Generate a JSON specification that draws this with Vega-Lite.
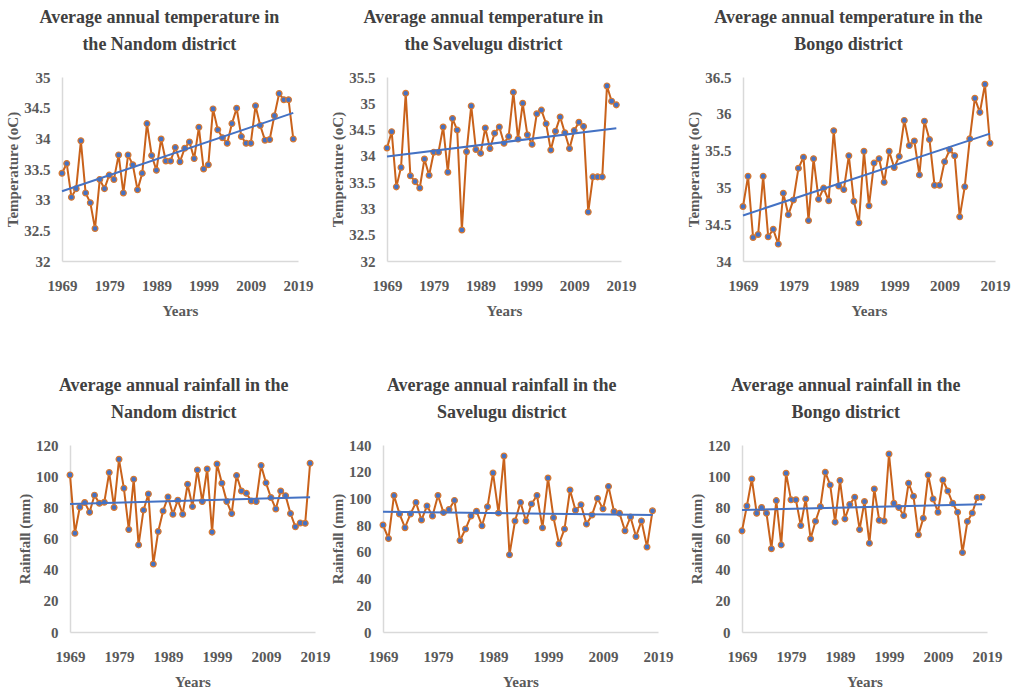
{
  "$schema": "https://vega.github.io/schema/vega-lite/v6.json",
  "background": "white",
  "padding": {"left": 5, "right": 5, "top": 9, "bottom": 5},
  "datasets": {
    "d": [
      {"year":1969,"nT":33.43,"sT":34.15,"bT":34.74,"nR":100.8,"sR":80.1,"bR":64.9},
      {"year":1970,"nT":33.59,"sT":34.46,"bT":35.15,"nR":63.4,"sR":70.0,"bR":80.9},
      {"year":1971,"nT":33.04,"sT":33.41,"bT":34.32,"nR":80.1,"sR":102.2,"bR":98.2},
      {"year":1972,"nT":33.18,"sT":33.78,"bT":34.36,"nR":83.1,"sR":88.4,"bR":76.2},
      {"year":1973,"nT":33.96,"sT":35.19,"bT":35.15,"nR":76.9,"sR":78.1,"bR":79.9},
      {"year":1974,"nT":33.11,"sT":33.62,"bT":34.33,"nR":87.8,"sR":88.4,"bR":76.2},
      {"year":1975,"nT":32.95,"sT":33.51,"bT":34.43,"nR":82.6,"sR":97.0,"bR":53.4},
      {"year":1976,"nT":32.53,"sT":33.39,"bT":34.23,"nR":83.3,"sR":83.9,"bR":84.3},
      {"year":1977,"nT":33.33,"sT":33.94,"bT":34.92,"nR":102.3,"sR":94.4,"bR":55.9},
      {"year":1978,"nT":33.18,"sT":33.63,"bT":34.63,"nR":79.9,"sR":86.9,"bR":101.9},
      {"year":1979,"nT":33.40,"sT":34.07,"bT":34.83,"nR":110.8,"sR":102.2,"bR":84.8},
      {"year":1980,"nT":33.33,"sT":34.07,"bT":35.26,"nR":92.2,"sR":89.4,"bR":84.8},
      {"year":1981,"nT":33.73,"sT":34.55,"bT":35.41,"nR":65.8,"sR":91.7,"bR":68.3},
      {"year":1982,"nT":33.11,"sT":33.69,"bT":34.55,"nR":98.0,"sR":98.5,"bR":85.4},
      {"year":1983,"nT":33.73,"sT":34.71,"bT":35.39,"nR":55.9,"sR":68.5,"bR":59.8},
      {"year":1984,"nT":33.57,"sT":34.49,"bT":34.84,"nR":78.2,"sR":77.1,"bR":71.1},
      {"year":1985,"nT":33.16,"sT":32.59,"bT":34.99,"nR":88.6,"sR":86.9,"bR":80.5},
      {"year":1986,"nT":33.43,"sT":34.08,"bT":34.82,"nR":43.6,"sR":90.4,"bR":102.5},
      {"year":1987,"nT":34.24,"sT":34.95,"bT":35.77,"nR":64.5,"sR":79.6,"bR":94.4},
      {"year":1988,"nT":33.72,"sT":34.12,"bT":35.02,"nR":77.7,"sR":93.7,"bR":70.5},
      {"year":1989,"nT":33.48,"sT":34.05,"bT":34.97,"nR":86.7,"sR":119.1,"bR":97.2},
      {"year":1990,"nT":33.99,"sT":34.53,"bT":35.43,"nR":75.6,"sR":89.1,"bR":72.6},
      {"year":1991,"nT":33.63,"sT":34.14,"bT":34.81,"nR":84.6,"sR":131.7,"bR":81.8},
      {"year":1992,"nT":33.63,"sT":34.43,"bT":34.52,"nR":75.6,"sR":57.9,"bR":86.5},
      {"year":1993,"nT":33.85,"sT":34.55,"bT":35.49,"nR":94.8,"sR":83.1,"bR":65.8},
      {"year":1994,"nT":33.62,"sT":34.24,"bT":34.75,"nR":80.5,"sR":97.0,"bR":83.7},
      {"year":1995,"nT":33.84,"sT":34.37,"bT":35.33,"nR":104.0,"sR":83.1,"bR":57.0},
      {"year":1996,"nT":33.94,"sT":35.21,"bT":35.39,"nR":83.7,"sR":95.9,"bR":91.8},
      {"year":1997,"nT":33.67,"sT":34.32,"bT":35.07,"nR":104.6,"sR":102.2,"bR":71.7},
      {"year":1998,"nT":34.18,"sT":35.00,"bT":35.49,"nR":64.1,"sR":78.1,"bR":71.3},
      {"year":1999,"nT":33.50,"sT":34.40,"bT":35.27,"nR":107.8,"sR":115.3,"bR":114.2},
      {"year":2000,"nT":33.57,"sT":34.22,"bT":35.42,"nR":95.5,"sR":85.6,"bR":82.6},
      {"year":2001,"nT":34.48,"sT":34.80,"bT":35.91,"nR":83.7,"sR":66.0,"bR":79.9},
      {"year":2002,"nT":34.14,"sT":34.87,"bT":35.57,"nR":76.0,"sR":77.1,"bR":74.7},
      {"year":2003,"nT":34.01,"sT":34.61,"bT":35.63,"nR":100.4,"sR":106.3,"bR":95.5},
      {"year":2004,"nT":33.92,"sT":34.11,"bT":35.17,"nR":90.5,"sR":91.2,"bR":87.1},
      {"year":2005,"nT":34.24,"sT":34.47,"bT":35.90,"nR":89.0,"sR":95.2,"bR":62.4},
      {"year":2006,"nT":34.49,"sT":34.74,"bT":35.65,"nR":84.1,"sR":80.8,"bR":73.0},
      {"year":2007,"nT":34.03,"sT":34.44,"bT":35.03,"nR":83.7,"sR":87.6,"bR":100.8},
      {"year":2008,"nT":33.92,"sT":34.14,"bT":35.03,"nR":106.8,"sR":100.0,"bR":85.4},
      {"year":2009,"nT":33.92,"sT":34.48,"bT":35.35,"nR":95.7,"sR":92.2,"bR":76.9},
      {"year":2010,"nT":34.53,"sT":34.64,"bT":35.51,"nR":86.3,"sR":109.0,"bR":97.6},
      {"year":2011,"nT":34.21,"sT":34.56,"bT":35.43,"nR":79.0,"sR":90.2,"bR":90.5},
      {"year":2012,"nT":33.97,"sT":32.93,"bT":34.60,"nR":90.5,"sR":88.9,"bR":82.6},
      {"year":2013,"nT":33.98,"sT":33.60,"bT":35.01,"nR":87.5,"sR":75.8,"bR":76.9},
      {"year":2014,"nT":34.37,"sT":33.60,"bT":35.66,"nR":76.0,"sR":86.1,"bR":51.0},
      {"year":2015,"nT":34.73,"sT":33.60,"bT":36.21,"nR":67.5,"sR":71.5,"bR":70.9},
      {"year":2016,"nT":34.63,"sT":35.33,"bT":36.02,"nR":70.0,"sR":83.1,"bR":76.4},
      {"year":2017,"nT":34.63,"sT":35.04,"bT":36.40,"nR":69.8,"sR":63.7,"bR":86.3},
      {"year":2018,"nT":33.99,"sT":34.97,"bT":35.60,"nR":108.3,"sR":90.7,"bR":86.5}
    ]
  },
  "vconcat": [
    {
      "hconcat": [
        {
          "width": 236, "height": 184,
          "title": {"text": ["Average annual temperature in", "the Nandom district"]},
          "data": {"name": "d"},
          "encoding": {
            "x": {"field": "year", "type": "quantitative", "scale": {"domain": [1969, 2019], "nice": false, "zero": false}, "axis": {"values": [1969, 1979, 1989, 1999, 2009, 2019], "title": "Years"}},
            "y": {"field": "nT", "type": "quantitative", "scale": {"domain": [32, 35], "nice": false, "zero": false}, "axis": {"values": [32, 32.5, 33, 33.5, 34, 34.5, 35], "title": "Temperature (oC)"}}
          },
          "layer": [
            {"mark": {"type": "line", "color": "#C9621B", "strokeWidth": 2}},
            {"mark": {"type": "point", "filled": true, "color": "#4472C4", "stroke": "#D9782E", "strokeWidth": 1.2, "size": 34, "opacity": 1}},
            {"transform": [{"regression": "nT", "on": "year"}], "mark": {"type": "line", "color": "#4472C4", "strokeWidth": 2}}
          ]
        },
        {
          "hconcat": [
            {
              "width": 234, "height": 184,
              "title": {"text": ["Average annual temperature in", "the Savelugu district"]},
              "data": {"name": "d"},
              "encoding": {
                "x": {"field": "year", "type": "quantitative", "scale": {"domain": [1969, 2019], "nice": false, "zero": false}, "axis": {"values": [1969, 1979, 1989, 1999, 2009, 2019], "title": "Years"}},
                "y": {"field": "sT", "type": "quantitative", "scale": {"domain": [32, 35.5], "nice": false, "zero": false}, "axis": {"values": [32, 32.5, 33, 33.5, 34, 34.5, 35, 35.5], "title": "Temperature (oC)"}}
              },
              "layer": [
                {"mark": {"type": "line", "color": "#C9621B", "strokeWidth": 2}},
                {"mark": {"type": "point", "filled": true, "color": "#4472C4", "stroke": "#D9782E", "strokeWidth": 1.2, "size": 34, "opacity": 1}},
                {"transform": [{"regression": "sT", "on": "year"}], "mark": {"type": "line", "color": "#4472C4", "strokeWidth": 2}}
              ]
            },
            {
              "width": 252, "height": 184,
              "title": {"text": ["Average annual temperature in the", "Bongo district"]},
              "data": {"name": "d"},
              "encoding": {
                "x": {"field": "year", "type": "quantitative", "scale": {"domain": [1969, 2019], "nice": false, "zero": false}, "axis": {"values": [1969, 1979, 1989, 1999, 2009, 2019], "title": "Years"}},
                "y": {"field": "bT", "type": "quantitative", "scale": {"domain": [34, 36.5], "nice": false, "zero": false}, "axis": {"values": [34, 34.5, 35, 35.5, 36, 36.5], "title": "Temperature (oC)"}}
              },
              "layer": [
                {"mark": {"type": "line", "color": "#C9621B", "strokeWidth": 2}},
                {"mark": {"type": "point", "filled": true, "color": "#4472C4", "stroke": "#D9782E", "strokeWidth": 1.2, "size": 34, "opacity": 1}},
                {"transform": [{"regression": "bT", "on": "year"}], "mark": {"type": "line", "color": "#4472C4", "strokeWidth": 2}}
              ]
            }
          ],
          "spacing": 50
        }
      ],
      "spacing": 17
    },
    {
      "hconcat": [
        {
          "width": 245, "height": 187,
          "title": {"text": ["Average annual rainfall in the", "Nandom district"]},
          "data": {"name": "d"},
          "encoding": {
            "x": {"field": "year", "type": "quantitative", "scale": {"domain": [1969, 2019], "nice": false, "zero": false}, "axis": {"values": [1969, 1979, 1989, 1999, 2009, 2019], "title": "Years"}},
            "y": {"field": "nR", "type": "quantitative", "scale": {"domain": [0, 120], "nice": false}, "axis": {"values": [0, 20, 40, 60, 80, 100, 120], "title": "Rainfall (mm)"}}
          },
          "layer": [
            {"mark": {"type": "line", "color": "#C9621B", "strokeWidth": 2}},
            {"mark": {"type": "point", "filled": true, "color": "#4472C4", "stroke": "#D9782E", "strokeWidth": 1.2, "size": 34, "opacity": 1}},
            {"transform": [{"regression": "nR", "on": "year"}], "mark": {"type": "line", "color": "#4472C4", "strokeWidth": 2}}
          ]
        },
        {
          "hconcat": [
            {
              "width": 275, "height": 187,
              "title": {"text": ["Average annual rainfall in the", "Savelugu district"]},
              "data": {"name": "d"},
              "encoding": {
                "x": {"field": "year", "type": "quantitative", "scale": {"domain": [1969, 2019], "nice": false, "zero": false}, "axis": {"values": [1969, 1979, 1989, 1999, 2009, 2019], "title": "Years"}},
                "y": {"field": "sR", "type": "quantitative", "scale": {"domain": [0, 140], "nice": false}, "axis": {"values": [0, 20, 40, 60, 80, 100, 120, 140], "title": "Rainfall (mm)"}}
              },
              "layer": [
                {"mark": {"type": "line", "color": "#C9621B", "strokeWidth": 2}},
                {"mark": {"type": "point", "filled": true, "color": "#4472C4", "stroke": "#D9782E", "strokeWidth": 1.2, "size": 34, "opacity": 1}},
                {"transform": [{"regression": "sR", "on": "year"}], "mark": {"type": "line", "color": "#4472C4", "strokeWidth": 2}}
              ]
            },
            {
              "width": 245, "height": 187,
              "title": {"text": ["Average annual rainfall in the", "Bongo district"]},
              "data": {"name": "d"},
              "encoding": {
                "x": {"field": "year", "type": "quantitative", "scale": {"domain": [1969, 2019], "nice": false, "zero": false}, "axis": {"values": [1969, 1979, 1989, 1999, 2009, 2019], "title": "Years"}},
                "y": {"field": "bR", "type": "quantitative", "scale": {"domain": [0, 120], "nice": false}, "axis": {"values": [0, 20, 40, 60, 80, 100, 120], "title": "Rainfall (mm)"}}
              },
              "layer": [
                {"mark": {"type": "line", "color": "#C9621B", "strokeWidth": 2}},
                {"mark": {"type": "point", "filled": true, "color": "#4472C4", "stroke": "#D9782E", "strokeWidth": 1.2, "size": 34, "opacity": 1}},
                {"transform": [{"regression": "bR", "on": "year"}], "mark": {"type": "line", "color": "#4472C4", "strokeWidth": 2}}
              ]
            }
          ],
          "spacing": 16
        }
      ],
      "spacing": 0
    }
  ],
  "spacing": 59,
  "center": true,
  "config": {
    "font": "Liberation Serif",
    "view": {"stroke": null},
    "axis": {
      "grid": false,
      "ticks": false,
      "domainColor": "#d9d9d9",
      "domainWidth": 1.5,
      "labelFont": "Liberation Serif",
      "labelFontSize": 15,
      "labelFontWeight": "bold",
      "labelColor": "#595959",
      "labelExpr": "'' + datum.value",
      "titleFont": "Liberation Serif",
      "titleFontSize": 15,
      "titleFontWeight": "bold",
      "titleColor": "#595959"
    },
    "axisX": {"labelPadding": 17, "titlePadding": 10, "labelOverlap": false, "labelFlush": false},
    "axisY": {"labelPadding": 12, "titlePadding": 3},
    "title": {"font": "Liberation Serif", "fontSize": 18, "fontWeight": "bold", "color": "#404040", "anchor": "middle", "frame": "bounds", "offset": 16, "lineHeight": 27}
  }
}
